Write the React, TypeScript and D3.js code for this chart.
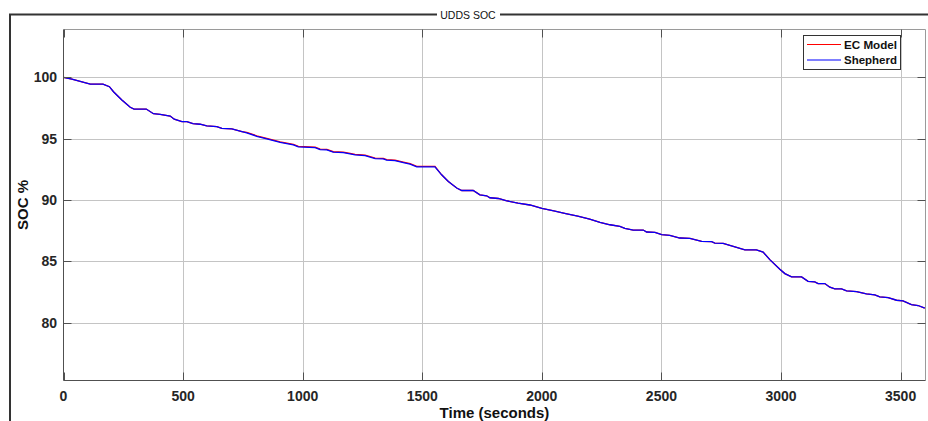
import { useEffect, useRef } from "react";
import * as d3 from "d3";

// time axis samples (seconds)
const timeSec = [
  0, 35, 112, 165, 192, 209, 244, 279, 295, 346, 376, 404, 446, 463, 495, 516, 541, 571, 599, 641,
  662, 704, 746, 766, 808, 850, 906, 961, 982, 1052, 1073, 1101, 1128, 1170, 1198, 1219, 1261, 1303,
  1337, 1351, 1386, 1421, 1449, 1477, 1553, 1581, 1609, 1644, 1665, 1713, 1741, 1769, 1783, 1818,
  1850, 1900, 1950, 2000, 2050, 2100, 2150, 2200, 2243, 2285, 2326, 2347, 2382, 2424, 2438, 2473,
  2501, 2535, 2577, 2619, 2668, 2710, 2723, 2758, 2800, 2849, 2897, 2925, 2953, 2995, 3016, 3044,
  3086, 3113, 3141, 3155, 3183, 3204, 3225, 3253, 3274, 3316, 3357, 3392, 3413, 3448, 3483, 3510,
  3545, 3573, 3601,
];

const shepherdSoc = [
  100, 99.86, 99.45, 99.45, 99.24, 98.83, 98.15, 97.56, 97.42, 97.42, 97.04, 96.99, 96.85, 96.59,
  96.39, 96.39, 96.23, 96.18, 96.04, 95.98, 95.85, 95.8, 95.58, 95.47, 95.2, 94.98, 94.71, 94.5,
  94.33, 94.28, 94.11, 94.09, 93.9, 93.87, 93.76, 93.68, 93.63, 93.38, 93.36, 93.25, 93.22, 93.06,
  92.93, 92.71, 92.71, 92.06, 91.51, 90.98, 90.78, 90.78, 90.43, 90.35, 90.19, 90.13, 89.95, 89.75,
  89.6, 89.32, 89.12, 88.9, 88.7, 88.45, 88.18, 87.99, 87.85, 87.69, 87.56, 87.56, 87.4, 87.37,
  87.18, 87.12, 86.91, 86.88, 86.63, 86.61, 86.5, 86.47, 86.23, 85.94, 85.94, 85.77, 85.15, 84.36,
  84.01, 83.74, 83.74, 83.38, 83.33, 83.2, 83.2, 82.9, 82.76, 82.76, 82.6, 82.54, 82.36, 82.28,
  82.11, 82.06, 81.84, 81.79, 81.49, 81.41, 81.19,
];

// EC model sits a hair above Shepherd in the middle stretch
const ecModelSoc = [
  100, 99.86, 99.45, 99.45, 99.24, 98.83, 98.15, 97.56, 97.42, 97.42, 97.04, 96.99, 96.85, 96.59,
  96.39, 96.39, 96.23, 96.18, 96.04, 95.98, 95.85, 95.8, 95.58, 95.51, 95.24, 95.02, 94.75, 94.54,
  94.37, 94.32, 94.15, 94.13, 93.94, 93.91, 93.8, 93.72, 93.67, 93.42, 93.4, 93.29, 93.26, 93.1,
  92.97, 92.75, 92.75, 92.06, 91.51, 90.98, 90.78, 90.78, 90.43, 90.35, 90.19, 90.13, 89.95, 89.75,
  89.6, 89.32, 89.12, 88.9, 88.7, 88.45, 88.18, 87.99, 87.85, 87.69, 87.56, 87.56, 87.4, 87.37,
  87.18, 87.12, 86.91, 86.88, 86.63, 86.61, 86.5, 86.47, 86.23, 85.94, 85.94, 85.77, 85.15, 84.36,
  84.01, 83.74, 83.74, 83.38, 83.33, 83.2, 83.2, 82.9, 82.76, 82.76, 82.6, 82.54, 82.36, 82.28,
  82.11, 82.06, 81.84, 81.79, 81.49, 81.41, 81.19,
];

const xTicks = [0, 500, 1000, 1500, 2000, 2500, 3000, 3500];
const yTicks = [80, 85, 90, 95, 100];
const seriesNames = ["EC Model", "Shepherd"];
const seriesColors = ["#ff0000", "#0000ff"];

export default function App() {
  const svgRef = useRef<SVGSVGElement | null>(null);

  useEffect(() => {
    const width = 928;
    const height = 421;
    const margin = { top: 29.5, right: 2.5, bottom: 40.5, left: 63.5 };
    const font = "'Liberation Sans', Arial, Helvetica, sans-serif";

    const svg = d3.select(svgRef.current);
    svg.selectAll("*").remove();

    const x = d3
      .scaleLinear()
      .domain([0, 3604])
      .range([margin.left, width - margin.right]);
    const y = d3
      .scaleLinear()
      .domain([75.3, 103.9])
      .range([height - margin.bottom, margin.top]);

    const [x0, x1] = x.range();
    const [y0, y1] = y.range(); // y0 bottom, y1 top

    svg.append("rect").attr("width", width).attr("height", height).attr("fill", "#fff");

    // outer panel frame with title gap
    const frame = svg.append("g").attr("stroke", "#333").attr("stroke-width", 2).attr("fill", "none");
    frame.append("path").attr("d", `M10,421 V14.5 H437`);
    frame.append("path").attr("d", `M500,14.5 H928`);
    svg
      .append("text")
      .attr("x", 468)
      .attr("y", 18.5)
      .attr("text-anchor", "middle")
      .attr("font-family", font)
      .attr("font-size", 10.5)
      .attr("fill", "#111")
      .text("UDDS SOC");

    // grid
    const grid = svg.append("g").attr("stroke", "#c4c4c4").attr("stroke-width", 1);
    grid
      .selectAll("line.gx")
      .data(xTicks.filter((d) => d > 0))
      .join("line")
      .attr("x1", (d) => Math.round(x(d)) + 0.5)
      .attr("x2", (d) => Math.round(x(d)) + 0.5)
      .attr("y1", y1)
      .attr("y2", y0);
    grid
      .selectAll("line.gy")
      .data(yTicks)
      .join("line")
      .attr("x1", x0)
      .attr("x2", x1)
      .attr("y1", (d) => Math.round(y(d)) + 0.5)
      .attr("y2", (d) => Math.round(y(d)) + 0.5);

    // series
    const line = d3
      .line<number>()
      .x((_, i) => x(timeSec[i]))
      .y((d) => y(d));
    [ecModelSoc, shepherdSoc].forEach((vals, k) => {
      svg
        .append("path")
        .datum(vals)
        .attr("fill", "none")
        .attr("stroke", seriesColors[k])
        .attr("stroke-width", 1.3)
        .attr("d", line);
    });

    // axes box
    const box = svg.append("g").attr("fill", "none").attr("stroke-width", 1);
    box.append("path").attr("stroke", "#9a9a9a").attr("d", `M${x0},${y1} H${x1} V${y0}`);
    box.append("path").attr("stroke", "#505050").attr("d", `M${x0},${y1} V${y0} H${x1}`);

    // inward ticks on all four sides
    const ticks = svg.append("g").attr("stroke", "#505050").attr("stroke-width", 1);
    xTicks.forEach((t) => {
      const px = Math.round(x(t)) + 0.5;
      ticks.append("line").attr("x1", px).attr("x2", px).attr("y1", y0).attr("y2", y0 - 8);
      ticks.append("line").attr("x1", px).attr("x2", px).attr("y1", y1).attr("y2", y1 + 8);
    });
    yTicks.forEach((t) => {
      const py = Math.round(y(t)) + 0.5;
      ticks.append("line").attr("x1", x0).attr("x2", x0 + 8).attr("y1", py).attr("y2", py);
      ticks.append("line").attr("x1", x1).attr("x2", x1 - 8).attr("y1", py).attr("y2", py);
    });

    // tick labels
    svg
      .append("g")
      .selectAll("text")
      .data(xTicks)
      .join("text")
      .attr("x", (d) => x(d))
      .attr("y", 401)
      .attr("text-anchor", "middle")
      .attr("font-family", font)
      .attr("font-size", 14)
      .attr("font-weight", "bold")
      .attr("fill", "#262626")
      .text((d) => d);
    svg
      .append("g")
      .selectAll("text")
      .data(yTicks)
      .join("text")
      .attr("x", 57)
      .attr("y", (d) => y(d) + 5)
      .attr("text-anchor", "end")
      .attr("font-family", font)
      .attr("font-size", 14)
      .attr("font-weight", "bold")
      .attr("fill", "#262626")
      .text((d) => d);

    // axis titles
    svg
      .append("text")
      .attr("x", (x0 + x1) / 2)
      .attr("y", 418)
      .attr("text-anchor", "middle")
      .attr("font-family", font)
      .attr("font-size", 15)
      .attr("font-weight", "bold")
      .attr("fill", "#111")
      .text("Time (seconds)");
    svg
      .append("text")
      .attr("transform", `translate(28,${(y0 + y1) / 2}) rotate(-90)`)
      .attr("text-anchor", "middle")
      .attr("font-family", font)
      .attr("font-size", 15)
      .attr("font-weight", "bold")
      .attr("fill", "#111")
      .text("SOC %");

    // legend
    const legend = svg.append("g");
    legend
      .append("rect")
      .attr("x", 803.5)
      .attr("y", 35.5)
      .attr("width", 97)
      .attr("height", 34)
      .attr("fill", "#fff")
      .attr("stroke", "#333")
      .attr("stroke-width", 1);
    seriesNames.forEach((name, k) => {
      const ly = 44.5 + k * 15.5;
      legend
        .append("line")
        .attr("x1", 807)
        .attr("x2", 841)
        .attr("y1", ly)
        .attr("y2", ly)
        .attr("stroke", seriesColors[k])
        .attr("stroke-width", 1.2);
      legend
        .append("text")
        .attr("x", 844)
        .attr("y", ly + 4)
        .attr("font-family", font)
        .attr("font-size", 11.5)
        .attr("font-weight", "bold")
        .attr("fill", "#111")
        .attr("textLength", name === "EC Model" ? 53 : 53)
        .attr("lengthAdjust", "spacingAndGlyphs")
        .text(name);
    });
  }, []);

  return (
    <svg
      ref={svgRef}
      width={928}
      height={421}
      style={{ position: "absolute", left: 0, top: 0, display: "block" }}
    />
  );
}
